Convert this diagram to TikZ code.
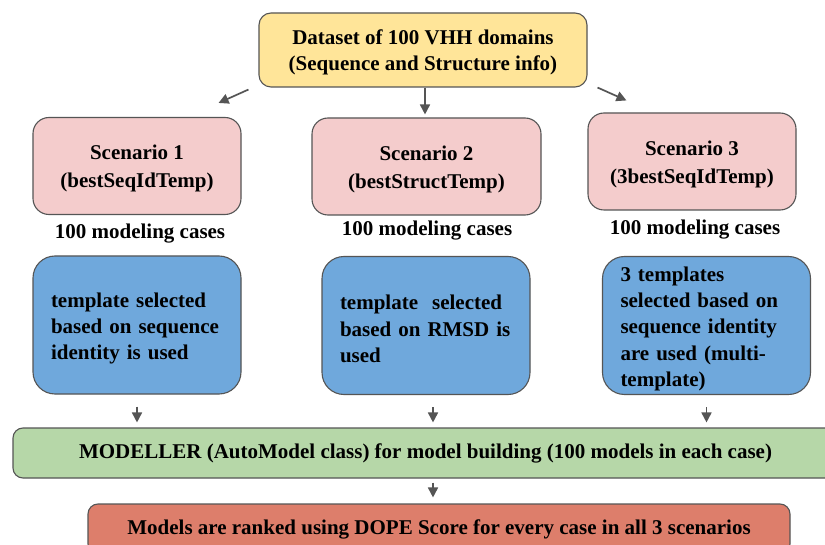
\documentclass[tikz,border=0pt]{standalone}
\usepackage{fontspec}
\setmainfont{Liberation Serif}[BoldFont={Liberation Serif Bold}]
\newfontfamily\diagfont{Liberation Serif}[BoldFont={Liberation Serif Bold}]
\newcommand\padtop[1]{\rule{0pt}{#1}}
\usetikzlibrary{arrows.meta,calc}
\definecolor{cyellow}{HTML}{FFE599}
\definecolor{cpink}{HTML}{F4CCCC}
\definecolor{cblue}{HTML}{6FA8DC}
\definecolor{cgreen}{HTML}{B6D7A8}
\definecolor{cred}{HTML}{DD7E6B}
\definecolor{cline}{HTML}{555555}
\begin{document}
\begin{tikzpicture}[x=1pt,y=-1pt,
  every node/.style={font=\diagfont\fontsize{21}{25.5}\selectfont\bfseries, text=black},
  box/.style={draw=cline, line width=1.1pt, inner sep=0pt},
  topbox/.style={box, fill=cyellow, rounded corners=12pt, minimum width=328pt, minimum height=74pt, align=center,
    font=\diagfont\fontsize{21}{26}\selectfont\bfseries},
  scenbox/.style={box, fill=cpink, rounded corners=16pt, minimum height=97pt, align=center,
    font=\diagfont\fontsize{21}{28}\selectfont\bfseries},
  tmplbox/.style={box, fill=cblue, rounded corners=22pt, minimum height=138pt, text width=172pt, inner xsep=18pt, align=left,
    font=\diagfont\fontsize{21}{26.3}\selectfont\bfseries},
  greenbox/.style={box, fill=cgreen, rounded corners=10pt, minimum width=825pt, minimum height=50pt},
  redbox/.style={box, fill=cred, rounded corners=10pt, minimum width=702pt, minimum height=50pt},
  lbl/.style={inner sep=0pt},
  arr/.style={draw=cline, line width=1.7pt, -{Triangle[length=10pt,width=10pt]}}
]
\useasboundingbox (0,0) rectangle (825,545);
\clip (0,0) rectangle (825,545);
\fill[white] (0,0) rectangle (825,545);

\node[topbox] (top) at (423,50) {\padtop{19pt}Dataset of 100 VHH domains\\(Sequence and Structure info)};

\node[scenbox, minimum width=208pt] (s1) at (137,166) {\padtop{19.5pt}Scenario 1\\(bestSeqIdTemp)};
\node[scenbox, minimum width=229pt] (s2) at (426.5,166.5) {\padtop{19.5pt}Scenario 2\\(bestStructTemp)};
\node[scenbox, minimum width=208pt] (s3) at (692,161.5) {\padtop{19.5pt}Scenario 3\\(3bestSeqIdTemp)};

\node[lbl] (c1) at (140,234) {100 modeling cases};
\node[lbl] (c2) at (427,231) {100 modeling cases};
\node[lbl] (c3) at (695,230) {100 modeling cases};

\node[tmplbox] (b1) at (137,325) {\padtop{21.3pt}template selected\\based on sequence\\identity is used};
\node[tmplbox] (b2) at (426,325.5) {\padtop{21.3pt}template~ selected\\based on RMSD is\\used};
\node[tmplbox] (b3) at (706.5,325.5) {\padtop{21.3pt}3 templates\\selected based on\\sequence identity\\are used (multi-\\template)};

\node[greenbox] (g) at (425.5,453) {MODELLER (AutoModel class) for model building (100 models in each case)};
\node[redbox] (r) at (439,529) {Models are ranked using DOPE Score for every case in all 3 scenarios};

% arrows from dataset
\coordinate (t1a) at ($(top.south west)+(-10,2)$);
\coordinate (t1b) at ($(s1.north east)+(-23,-14)$);
\draw[arr] (t1a) -- (t1b);
\draw[arr] (top.south -| 425,0) -- ([yshift=3pt]s2.north -| 425,0);
\coordinate (t3a) at ($(top.south east)+(10,0)$);
\coordinate (t3b) at ($(s3.north west)+(39,-12)$);
\draw[arr] (t3a) -- (t3b);

% arrows to MODELLER
\draw[arr] ([yshift=-12pt]b1.south) -- ([yshift=5pt]b1.south |- g.north);
\draw[arr] ([xshift=7pt,yshift=-12pt]b2.south) -- ([xshift=7pt,yshift=5pt]b2.south |- g.north);
\draw[arr] ([yshift=-12pt]b3.south) -- ([yshift=5pt]b3.south |- g.north);

% arrow to ranking
\draw[arr] ([yshift=-4pt]g.south -| 433,0) -- ([yshift=6pt]r.north -| 433,0);
\end{tikzpicture}
\end{document}
